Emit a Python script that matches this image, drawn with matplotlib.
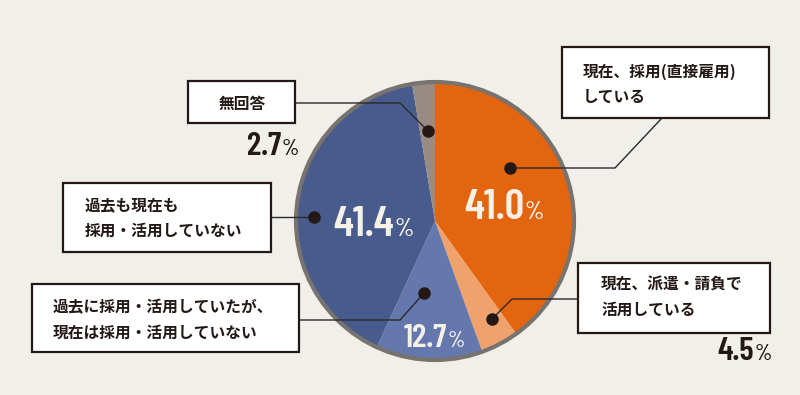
import matplotlib
matplotlib.use("Agg")
import matplotlib.pyplot as plt
from matplotlib import font_manager
from matplotlib.patches import Circle, Rectangle

# ---- data ----
categories = [
    "現在、採用(直接雇用)\nしている",
    "現在、派遣・請負で\n活用している",
    "過去に採用・活用していたが、\n現在は採用・活用していない",
    "過去も現在も\n採用・活用していない",
    "無回答",
]
values = [41.0, 4.5, 12.7, 41.4, 2.7]
value_labels = ["41.0", "4.5", "12.7", "41.4", "2.7"]
colors = ["#E3650F", "#F0A26C", "#6578AD", "#485B8D", "#978B83"]

# ---- fonts ----
available = {f.name for f in font_manager.fontManager.ttflist}
num_font = next((f for f in ["Barlow Condensed", "Roboto Condensed", "Liberation Sans Narrow", "DejaVu Sans"]
                 if f in available), "DejaVu Sans")
jp_font = ["Noto Sans CJK JP", "DejaVu Sans"]

W, H = 800, 395
BG = "#F0EFE9"
DARK = "#231815"
LIGHT = "#F6F1E7"

fig = plt.figure(figsize=(W / 100, H / 100), dpi=100, facecolor=BG)
ax = fig.add_axes([0, 0, 1, 1])
ax.set_facecolor(BG)

def Y(y):
    return H - y

cx, cy, R = 435, Y(221), 138
ax.pie(values, colors=colors, startangle=90, counterclock=False,
       center=(cx, cy), radius=R, frame=True,
       wedgeprops=dict(linewidth=0, antialiased=True))
ax.set_xlim(0, W)
ax.set_ylim(0, H)
ax.set_aspect("equal")
ax.axis("off")
ax.add_patch(Circle((cx, cy), R + 1, fill=False, edgecolor="#78736E", linewidth=3.0, zorder=5))

# ---- label boxes ----
boxes = [
    # (left, top, right, bottom, text x, line1 y, line2 y, ha)
    (562, 47, 769, 118, 583, 72, 97, "left"),
    (578, 263, 770, 333, 601, 285, 310, "left"),
    (32, 284, 299, 352, 53, 307, 333, "left"),
    (63, 183, 271, 252, 85, 205, 231, "left"),
    (188, 81, 295, 123, 242, 104, None, "center"),
]
for (l, t, r, b, tx, y1, y2, ha), cat in zip(boxes, categories):
    ax.add_patch(Rectangle((l, Y(b)), r - l, b - t, facecolor="white",
                           edgecolor=DARK, linewidth=1.6, zorder=6))
    lines = cat.split("\n")
    ax.text(tx, Y(y1), lines[0], family=jp_font, fontsize=11.3, weight="bold",
            color=DARK, ha=ha, va="center", zorder=7)
    if y2 is not None and len(lines) > 1:
        ax.text(tx, Y(y2), lines[1], family=jp_font, fontsize=11.3, weight="bold",
                color=DARK, ha=ha, va="center", zorder=7)

# ---- leader lines & dots ----
leaders = [
    [(662, 118), (615, 168), (510, 168)],
    [(578, 299), (512, 299), (492, 319)],
    [(299, 320), (400, 320), (424, 293)],
    [(271, 217), (314, 217)],
    [(295, 103), (400, 103), (428, 131)],
]
for pts in leaders:
    xs = [p[0] for p in pts]
    ys = [Y(p[1]) for p in pts]
    ax.plot(xs, ys, color="#2a2a2a", linewidth=1.0, zorder=8, solid_capstyle="butt")
    ax.plot(xs[-1], ys[-1], "o", color=DARK, markersize=8, zorder=9)

# ---- percentage labels ----
pct_pos = [
    # (x where number ends, baseline y, number size, pct size, color)
    (524, 219, 31, 18, LIGHT),
    (754, 360, 24, 16, DARK),
    (447, 347, 24, 16, LIGHT),
    (394, 236, 31, 18, LIGHT),
    (281, 155, 24, 16, DARK),
]
for (x, y, ns, ps, c), lab in zip(pct_pos, value_labels):
    ax.text(x, Y(y), lab, family=num_font, fontsize=ns, weight="semibold", color=c,
            ha="right", va="baseline", zorder=10)
    ax.text(x + 0.5, Y(y), "%", family=num_font, fontsize=ps, weight="medium",
            color=c, ha="left", va="baseline", zorder=10)

fig.savefig("out.png", dpi=100, facecolor=BG)
